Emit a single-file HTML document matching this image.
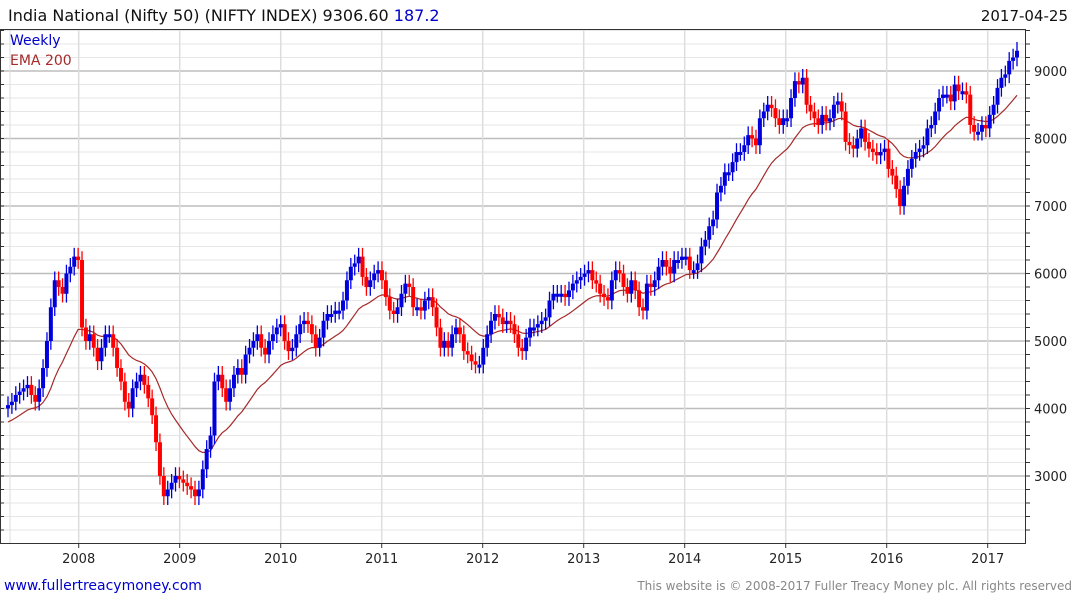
<!DOCTYPE html>
<html><head><meta charset="utf-8"><style>
body{margin:0;background:#fff;width:1075px;height:600px;overflow:hidden;font-family:"DejaVu Sans","Liberation Sans",sans-serif}
svg{display:block}
</style></head><body>
<svg id="chart" width="1075" height="600">
<text x="8" y="21" font-size="16" fill="#111">India National (Nifty 50) (NIFTY INDEX) 9306.60 <tspan fill="#0000cc">187.2</tspan></text>
<text x="1068" y="21" font-size="15" fill="#111" text-anchor="end">2017-04-25</text>
<g id="grid"></g>
<g id="ema"></g>
<g id="bars"></g>
<rect x="0.5" y="29.5" width="1025" height="514" fill="none" stroke="#333"/>
<g id="axes"></g>
<text x="10" y="45" font-size="14" fill="#0000cc">Weekly</text>
<text x="10" y="65" font-size="14" fill="#a52a2a">EMA 200</text>
<text x="4" y="590" font-size="14" fill="#0000cc">www.fullertreacymoney.com</text>
<text x="1072" y="590" font-size="12" fill="#888" text-anchor="end">This website is © 2008-2017 Fuller Treacy Money plc. All rights reserved</text>
</svg>
<script>
const years=["2008","2009","2010","2011","2012","2013","2014","2015","2016","2017"];
const yTicks=[3000,4000,5000,6000,7000,8000,9000];
const closes2007=[4050,4100,4200,4250,4300,4350,4200,4100,4300,4600,5000,5500,5900,5800,5700,6000,6100,6250];
const closes2008=[6200,5200,5000,5100,4900,4700,4900,5100,5100,4900,4600,4400,4100,4000,4300,4400,4500,4350,4150,3900,3500,3000,2700,2800,2900,3000];
const closes2009=[2950,2900,2850,2800,2700,2800,3100,3400,3600,4400,4500,4300,4100,4300,4500,4600,4500,4800,4900,5000,5100,4900,4800,5000,5100,5200];
const closes2010=[5250,5000,4850,4900,5100,5250,5300,5250,5100,4900,5050,5300,5400,5400,5450,5450,5600,5900,6100,6150,6250,5950,5800,5900,6000,6050];
const closes2011=[5900,5650,5450,5400,5500,5700,5850,5800,5500,5500,5450,5600,5650,5500,5200,4900,5000,4900,5100,5200,5100,4850,4800,4700,4650,4650];
const closes2012=[4900,5100,5300,5400,5350,5250,5300,5250,5100,4900,4850,5050,5200,5200,5250,5300,5350,5600,5700,5700,5700,5650,5750,5850,5900,5950];
const closes2013=[6000,6050,5900,5850,5700,5650,5600,5900,6050,6000,5800,5700,5900,5750,5500,5450,5850,5800,5900,6100,6200,6100,6000,6200,6200,6250];
const closes2014=[6250,6050,6050,6150,6400,6500,6700,6800,7200,7300,7500,7500,7650,7800,7800,7900,8050,8000,7900,8300,8400,8500,8450,8300,8200,8300];
const closes2015=[8300,8600,8850,8800,8900,8500,8400,8300,8200,8350,8250,8300,8500,8550,8400,7950,7900,7850,8000,8150,7950,7850,7800,7750,7800,7850];
const closes2016=[7550,7450,7250,7000,7300,7550,7700,7800,7850,7900,8150,8200,8400,8600,8650,8650,8550,8800,8700,8700,8650,8200,8100,8100,8200,8150];
const closes2017=[8350,8500,8750,8900,8950,9150,9200,9300];
const emaSeed=3800;

const closes=[].concat(closes2007,closes2008,closes2009,closes2010,closes2011,closes2012,closes2013,closes2014,closes2015,closes2016,closes2017);
const NS="http://www.w3.org/2000/svg";
const X0=8,X1=1017;
const step=(X1-X0)/(closes.length-1);
function xi(i){return X0+i*step;}
function xYear(y){return X0+(y-2007.30)*101;}
function yv(v){return 71+(9000-v)*0.0675;}
function mk(tag,attrs,parent){const e=document.createElementNS(NS,tag);for(const k in attrs)e.setAttribute(k,attrs[k]);parent.appendChild(e);return e;}
const grid=document.getElementById('grid'),axes=document.getElementById('axes'),bars=document.getElementById('bars'),emaG=document.getElementById('ema');
for(let v=2000;v<=9600;v+=200){
  const y=yv(v); if(y<30||y>543)continue;
  const major=v%1000===0;
  const l=mk('line',{x1:1,x2:1025,y1:y,y2:y,stroke:major?'#bdbdbd':'#e6e6e6','stroke-width':major?1.5:1},grid);
  
  
  const t=mk('line',{x1:1025,x2:1030,y1:y,y2:y,stroke:'#333'},axes);
  
  
  const t2=mk('line',{x1:0,x2:4,y1:y,y2:y,stroke:'#333'},axes);
  
  
}
yTicks.forEach(v=>{
  const t=mk('text',{x:1034,y:yv(v)+5,'font-size':13,fill:'#222'},axes);
  t.textContent=v;
  
  
});
const g0=mk('line',{x1:10,x2:10,y1:30,y2:543,stroke:'#ddd'},grid);


years.forEach(yr=>{
  const x=xYear(+yr);
  const l=mk('line',{x1:x,x2:x,y1:30,y2:543,stroke:'#ddd','stroke-width':1.5},grid);
  
  
  const tk=mk('line',{x1:x,x2:x,y1:543,y2:548,stroke:'#333'},axes);
  
  
  const t=mk('text',{x:x,y:563,'font-size':13,fill:'#222','text-anchor':'middle'},axes);
  t.textContent=yr;
  
  
});
let prev=closes[0];
closes.forEach((c,i)=>{
  const o=i===0?c-50:prev;
  const up=c>=o;
  const col=up?'#0000dd':'#ff0000';
  const hi=Math.max(o,c)+130,lo=Math.min(o,c)-130;
  const x=xi(i);
  const w=mk('line',{x1:x,x2:x,y1:yv(hi),y2:yv(lo),stroke:col,'stroke-width':1.3},bars);
  
  
  const b=mk('rect',{x:x-2,y:yv(Math.max(o,c)),width:4,height:Math.max(3,Math.abs(yv(o)-yv(c))),fill:col},bars);
  
  
  prev=c;
});
let e=emaSeed;const a=2/21;let d='';
closes.forEach((c,i)=>{ if(i>0)e=e+a*(c-e); d+=(i?'L':'M')+xi(i).toFixed(1)+' '+yv(e).toFixed(1);});
const p=mk('path',{d:d,fill:'none',stroke:'#a52a2a','stroke-width':1.2},emaG);


</script>
</body></html>
